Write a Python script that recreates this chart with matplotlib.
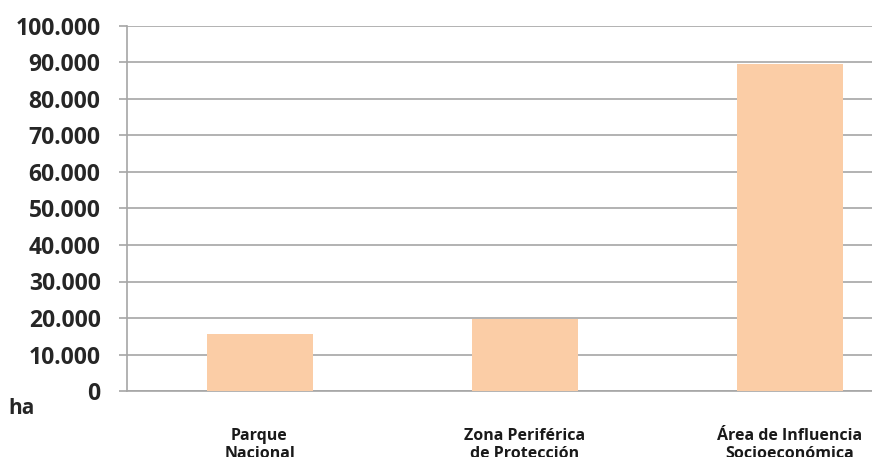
import matplotlib
matplotlib.use("Agg")
import matplotlib.pyplot as plt
from matplotlib.ticker import FuncFormatter

categories = ["Parque\nNacional", "Zona Periférica\nde Protección", "Área de Influencia\nSocioeconómica"]
values = [15600, 19700, 89600]
y_ticks = [0, 10000, 20000, 30000, 40000, 50000, 60000, 70000, 80000, 90000, 100000]

W, H = 872, 457
fig = plt.figure(figsize=(W / 100, H / 100), dpi=100)
left, right, bottom, top = 127, 922, 391, 26
ax = fig.add_axes([left / W, (H - bottom) / H, (right - left) / W, (bottom - top) / H])

grid_c = "#a6a6a6"
ax.bar(range(len(categories)), values, width=0.4, color="#FBCDA6", zorder=3)
ax.set_xlim(-0.5, len(categories) - 0.5)
ax.set_ylim(0, 100000)
ax.set_yticks(y_ticks)
ax.yaxis.set_major_formatter(FuncFormatter(lambda v, p: f"{int(v):,}".replace(",", ".")))
ax.yaxis.grid(True, color=grid_c, linewidth=1.2, zorder=0)
ax.set_axisbelow(True)
for s in ["top", "right"]:
    ax.spines[s].set_visible(False)
ax.spines["left"].set_color(grid_c)
ax.spines["bottom"].set_color(grid_c)
ax.spines["left"].set_linewidth(1.2)
ax.spines["bottom"].set_linewidth(1.2)
ax.tick_params(axis="y", length=6, width=1.2, color=grid_c, pad=13,
               labelsize=16.5, labelcolor="#262626")
for lab in ax.get_yticklabels():
    lab.set_fontweight("bold")
    lab.set_family("Open Sans")
ax.set_xticks(range(len(categories)))
ax.set_xticklabels(categories, fontsize=11.5, fontweight="bold", color="#1a1a1a",
                   family="Open Sans", linespacing=1.15)
ax.tick_params(axis="x", length=0, pad=27)
fig.text(8 / W, 1 - 408 / H, "ha", fontsize=15, fontweight="bold", color="#262626",
         family="Open Sans", va="center", ha="left")
fig.savefig("out.png", dpi=100)
